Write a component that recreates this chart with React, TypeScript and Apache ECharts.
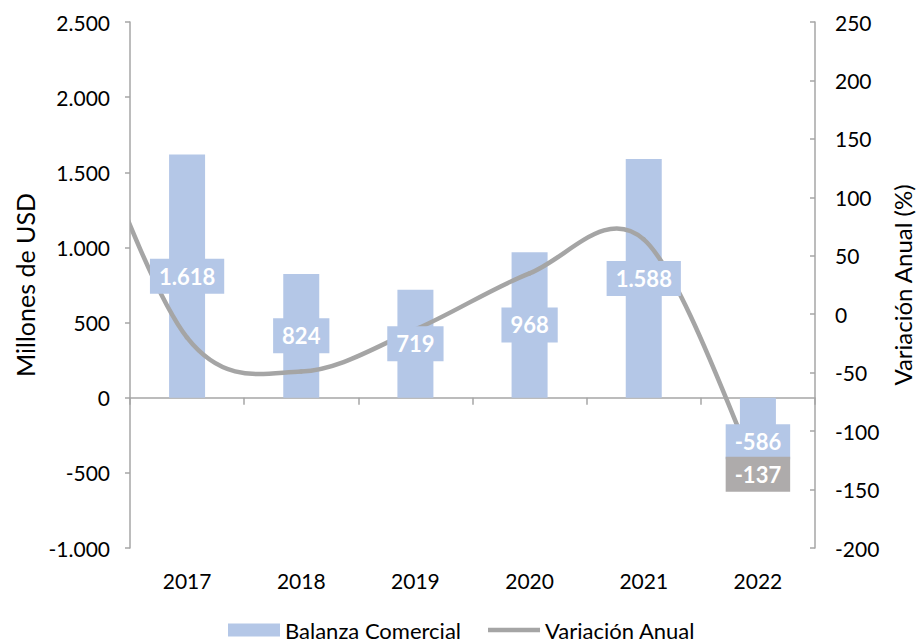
import { useEffect, useRef } from 'react';
import * as echarts from 'echarts';

const categories = ['2017', '2018', '2019', '2020', '2021', '2022'];
const balanza = [1618, 824, 719, 968, 1588, -586];
// annual variation (%); the first year lies outside the visible plot and is clipped
const variationYears = ['2016', '2017', '2018', '2019', '2020', '2021', '2022'];
const variacion = [198, -20, -49, -13, 35, 64, -137];
const labeledVariationYears = ['2022'];

const FONT = 'Lato';
const AXIS_COLOR = '#A6A6A6';
const BAR_COLOR = '#B4C7E7';
const LINE_COLOR = '#A5A5A5';

function fmt(v: number): string {
  const s = Math.abs(Math.round(v)).toString().replace(/\B(?=(\d{3})+(?!\d))/g, '.');
  return (v < 0 ? '-' : '') + s;
}

const linePoints = variacion.map((v, i) => [i - 1, v]);

export default function App() {
  const ref = useRef<HTMLDivElement>(null);
  useEffect(() => {
    document.documentElement.style.overflow = 'hidden';
    document.body.style.margin = '0';
    document.body.style.overflow = 'hidden';
    const chart = echarts.init(ref.current!, null, { renderer: 'svg', width: 920, height: 644 });
    const axisLineStyle = { color: AXIS_COLOR, width: 1.5 };
    const labelCommon = {
      show: true,
      position: 'inside' as const,
      color: '#FFFFFF',
      fontFamily: FONT,
      fontWeight: 'bold' as const,
      fontSize: 22,
      padding: [7, 9, 6, 9],
    };
    chart.setOption({
      animation: false,
      textStyle: { fontFamily: FONT },
      grid: {
        left: 130,
        right: 105,
        top: 22,
        bottom: 96,
        containLabel: false,
        outerBoundsMode: 'none',
      },
      legend: {
        left: 228,
        top: 619,
        padding: 0,
        itemWidth: 52,
        itemHeight: 13,
        itemGap: 27,
        textStyle: { fontFamily: FONT, fontSize: 22, color: '#000', lineHeight: 22 },
        data: [
          { name: 'Balanza Comercial', icon: 'rect' },
          { name: 'Variación Anual', icon: 'path://M0,0 H52 V4.5 H0 Z' },
        ],
      },
      xAxis: [
        {
          type: 'category',
          data: categories,
          position: 'bottom',
          axisLine: { show: false, onZero: false },
          axisTick: { show: false },
          axisLabel: { margin: 22, fontSize: 21, fontFamily: FONT, color: '#000' },
        },
        {
          type: 'category',
          data: categories,
          position: 'top',
          axisLine: { show: true, onZero: true, onZeroAxisIndex: 0, lineStyle: axisLineStyle },
          axisTick: { show: true, inside: true, length: 7, lineStyle: axisLineStyle },
          axisLabel: { show: false },
        },
        {
          type: 'value',
          min: -0.5,
          max: 5.5,
          show: false,
          axisLine: { onZero: false },
          splitLine: { show: false },
        },
      ],
      yAxis: [
        {
          type: 'value',
          min: -1000,
          max: 2500,
          interval: 500,
          position: 'left',
          name: 'Millones de USD',
          nameLocation: 'middle',
          nameGap: 90,
          nameTextStyle: { fontFamily: FONT, fontSize: 25, color: '#000' },
          axisLine: { show: true, onZero: false, lineStyle: axisLineStyle },
          axisTick: { show: true, length: 5, lineStyle: axisLineStyle },
          axisLabel: { margin: 20, fontSize: 21, fontFamily: FONT, color: '#000', formatter: (v: number) => fmt(v) },
          splitLine: { show: false },
        },
        {
          type: 'value',
          min: -200,
          max: 250,
          interval: 50,
          position: 'right',
          name: 'Variación Anual (%)',
          nameLocation: 'middle',
          nameGap: 74,
          nameTextStyle: { fontFamily: FONT, fontSize: 24, color: '#000' },
          axisLine: { show: true, onZero: false, lineStyle: axisLineStyle },
          axisTick: { show: true, inside: true, length: 5, lineStyle: axisLineStyle },
          axisLabel: { margin: 20, fontSize: 21, fontFamily: FONT, color: '#000', formatter: (v: number) => fmt(v) },
          splitLine: { show: false },
        },
      ],
      series: [
        {
          name: 'Balanza Comercial',
          type: 'bar',
          xAxisIndex: 0,
          yAxisIndex: 0,
          data: balanza,
          barWidth: 36,
          itemStyle: { color: BAR_COLOR },
          z: 2,
        },
        {
          // smoothed curve (Excel-like Catmull-Rom through the data points)
          name: 'curve',
          type: 'custom',
          xAxisIndex: 2,
          yAxisIndex: 1,
          clip: true,
          silent: true,
          encode: { x: 0, y: 1 },
          data: linePoints,
          z: 3,
          renderItem: (params: any, api: any) => {
            if (params.dataIndex !== linePoints.length - 1) return null;
            const pts = linePoints.map((d) => api.coord(d));
            const n = pts.length;
            const children: any[] = [];
            for (let i = 0; i < n - 1; i++) {
              const p0 = pts[i - 1] || pts[i];
              const p1 = pts[i];
              const p2 = pts[i + 1];
              const p3 = pts[i + 2] || pts[i + 1];
              children.push({
                type: 'bezierCurve',
                shape: {
                  x1: p1[0],
                  y1: p1[1],
                  cpx1: p1[0] + (p2[0] - p0[0]) / 6,
                  cpy1: p1[1] + (p2[1] - p0[1]) / 6,
                  cpx2: p2[0] - (p3[0] - p1[0]) / 6,
                  cpy2: p2[1] - (p3[1] - p1[1]) / 6,
                  x2: p2[0],
                  y2: p2[1],
                },
                style: { stroke: LINE_COLOR, lineWidth: 4.5, fill: null, lineCap: 'round' },
              });
            }
            const cs = params.coordSys;
            return {
              type: 'group',
              clipPath: { type: 'rect', shape: { x: cs.x, y: cs.y, width: cs.width, height: cs.height } },
              children,
            };
          },
        },
        {
          name: 'Variación Anual',
          type: 'line',
          xAxisIndex: 2,
          yAxisIndex: 1,
          clip: true,
          symbol: 'circle',
          symbolSize: 0.01,
          itemStyle: { color: LINE_COLOR },
          lineStyle: { color: LINE_COLOR, width: 4.5, opacity: 0 },
          data: linePoints.map((p, i) => ({
            value: p,
            label: labeledVariationYears.includes(variationYears[i])
              ? { ...labelCommon, backgroundColor: '#AEABAB', formatter: (q: any) => fmt(q.value[1]) }
              : { show: false },
          })),
          z: 5,
        },
        {
          name: 'labels',
          type: 'bar',
          xAxisIndex: 0,
          yAxisIndex: 0,
          data: balanza,
          barWidth: 36,
          barGap: '-100%',
          silent: true,
          itemStyle: { color: 'rgba(0,0,0,0)' },
          label: { ...labelCommon, backgroundColor: BAR_COLOR, formatter: (p: any) => fmt(p.value) },
          z: 4,
        },
      ],
    });
    return () => chart.dispose();
  }, []);
  return <div ref={ref} style={{ width: 920, height: 644 }} />;
}
